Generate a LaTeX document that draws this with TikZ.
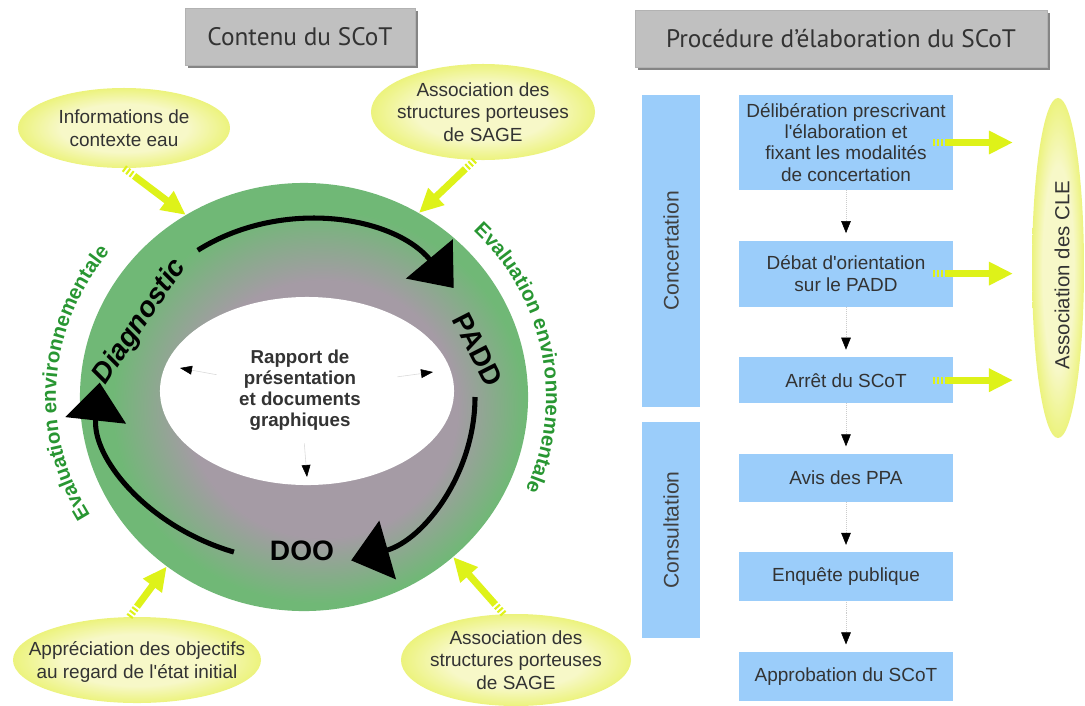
\documentclass[tikz,border=0pt]{standalone}
\usepackage{fontspec}
\setmainfont{Liberation Sans}
\newfontfamily\headfont{PT Sans}
\usetikzlibrary{positioning,shapes.geometric,arrows.meta,shadows,decorations.text}

\definecolor{headgray}{RGB}{192,192,192}
\definecolor{boxblue}{RGB}{155,205,250}
\definecolor{ringgreen}{RGB}{112,184,118}
\definecolor{ringgray}{RGB}{165,155,165}
\definecolor{bubblein}{RGB}{247,248,200}
\definecolor{bubbleout}{RGB}{236,243,125}
\definecolor{yarrowcol}{RGB}{222,242,25}
\definecolor{evalgreen}{RGB}{40,150,50}

\pgfdeclareradialshading{ringshade}{\pgfpoint{3bp}{-2bp}}{color(0bp)=(ringgray); color(15bp)=(ringgray); color(23bp)=(ringgreen); color(25bp)=(ringgreen); color(50bp)=(ringgreen)}
\pgfdeclareradialshading{bubbleshade}{\pgfpoint{0bp}{0bp}}{color(0bp)=(bubblein); color(15bp)=(bubblein); color(25bp)=(bubbleout); color(50bp)=(bubbleout)}

\newcommand\evalfont{\fontsize{14.5}{14.5}\selectfont\bfseries}

\begin{document}
\begin{tikzpicture}[x=0.025cm,y=0.025cm,node distance=1.25cm,
  headbox/.style={fill=headgray,draw=black!30,minimum height=1.425cm,
    drop shadow={shadow xshift=2pt,shadow yshift=-2pt,fill=black!60,opacity=.8},
    font=\headfont\fontsize{18}{18}\selectfont,text=black!80},
  bubble/.style={ellipse,shade,shading=bubbleshade,inner sep=0pt},
  bubtext/.style={align=center,font=\fontsize{13.5}{16}\selectfont,text=black!80},
  stepbox/.style={fill=boxblue,minimum width=5.325cm,inner sep=2pt,align=center,
    font=\fontsize{13.5}{15}\selectfont,text=black!80},
  sidebox/.style={fill=boxblue,rotate=90,minimum height=1.45cm,
    font=\fontsize{15}{15}\selectfont,text=black!75},
  cyclabel/.style={font=\fontsize{20}{20}\selectfont\bfseries},
  cycarrow/.style={line width=3.6pt,-{Triangle[length=0.95cm,width=1.5cm]}},
  yarrow/.style={draw=yarrowcol,line width=5pt,
    dash pattern=on 1.5pt off 1.5pt on 1.5pt off 1.5pt on 1.5pt off 1.5pt on 2000pt,
    -{Triangle[length=0.6cm,width=0.55cm]}},
  steparrow/.style={draw=black!20,densely dotted,shorten >=0.18cm,
    -{Triangle[length=0.3cm,width=0.24cm,color=black]}},
  docarrow/.style={draw=black!15,-{Triangle[length=0.3cm,width=0.22cm,color=black]}},
  evaltext/.style={decorate,decoration={text along path,text align=center,
    text color=evalgreen,text={|\evalfont|Evaluation environnementale}}}
]
\useasboundingbox (0,0) rectangle (1085,-705);

%% Contenu du SCoT
\node[headbox,minimum width=5.75cm] (contenu) at (300,-36.5) {Contenu du SCoT};

\node[shade,shading=ringshade,ellipse,minimum width=11.2cm,minimum height=10.7cm,
  inner sep=0pt] (ring) at (304,-397) {};
\node[ellipse,fill=white,minimum width=7.35cm,minimum height=4.7cm,inner sep=0pt]
  (hole) at (307,-391) {};
\node[font=\fontsize{13.3}{15}\selectfont\bfseries,align=center,text=black!80]
  (rapport) at (300,-390) {Rapport de\\présentation\\et documents\\graphiques};

\coordinate (rl) at (180,-368);
\coordinate (rr) at (433,-372);
\coordinate (rb) at (307,-477);
\draw[docarrow,shorten <=0.45cm] (rapport) -- (rl);
\draw[docarrow,shorten <=0.8cm] (rapport) -- (rr);
\draw[docarrow,shorten <=0.2cm] (rapport) -- (rb);

%% Cycle
\draw[cycarrow] (ring.center) ++(124:190 and 177)
  arc[start angle=124,end angle=38,x radius=190,y radius=177];
\draw[cycarrow] (ring.center) ++(0:171 and 170)
  arc[start angle=0,end angle=-74,x radius=171,y radius=170];
\draw[cycarrow] (ring.center) ++(-110:205 and 165)
  arc[start angle=-110,end angle=-185,x radius=205,y radius=165];

\node[cyclabel,font=\fontsize{20}{20}\selectfont\bfseries\itshape,rotate=56]
  (diag) at (140,-322) {Diagnostic};
\node[cyclabel,rotate=-63] (padd) at (478,-350) {PADD};
\node[cyclabel] (doo) at (302,-551) {DOO};

%% Evaluation environnementale
\path[evaltext] ([xshift=-0.2cm]ring.center) ++(222:240 and 230)
  arc[start angle=222,end angle=130,x radius=240,y radius=230];
\path[evaltext] ([xshift=0.05cm]ring.center) ++(57:240 and 232)
  arc[start angle=57,end angle=-35,x radius=240,y radius=232];

%% Bubbles
\node[bubble,minimum width=5.3cm,minimum height=2cm] (info) at (124,-128) {};
\node[bubtext] (infotxt) at (info) {Informations de\\contexte eau};
\node[bubble,minimum width=5.6cm,minimum height=2.4cm] (sage1) at (483,-112) {};
\node[bubtext] (sage1txt) at (sage1) {Association des\\structures porteuses\\de SAGE};
\node[bubble,minimum width=6.2cm,minimum height=2.15cm] (appr) at (137,-660) {};
\node[bubtext] (apprtxt) at (137,-662)
  {Appréciation des objectifs\\au regard de l\textquotesingle état initial};
\node[bubble,minimum width=5.75cm,minimum height=2.3cm] (sage2) at (516,-660) {};
\node[bubtext] (sage2txt) at (sage2) {Association des\\structures porteuses\\de SAGE};

\draw[yarrow] (info.south) -- (ring.123);
\draw[yarrow] (sage1.-100) -- (ring.58);
\draw[yarrow] (appr.100) -- (ring.231);
\draw[yarrow] (sage2.105) -- (ring.313);

%% Procedure
\node[headbox,minimum width=10.3cm] (procedure) at (841,-38.5)
  {Procédure d’élaboration du SCoT};

\node[stepbox,minimum height=2.375cm] (d1) at (846,-142.5)
  {Délibération prescrivant\\l\textquotesingle élaboration et\\fixant les modalités\\de concertation};
\node[stepbox,minimum height=1.65cm,below=of d1] (d2)
  {Débat d\textquotesingle orientation\\sur le PADD};
\node[stepbox,minimum height=1.15cm,below=of d2] (d3) {Arrêt du SCoT};
\node[stepbox,minimum height=1.2cm,below=of d3] (d4) {Avis des PPA};
\node[stepbox,minimum height=1.225cm,below=of d4] (d5) {Enquête publique};
\node[stepbox,minimum height=1.225cm,below=of d5] (d6) {Approbation du SCoT};

\node[sidebox,minimum width=7.8cm] (concert) at (671,-251) {Concertation};
\node[sidebox,minimum width=5.4cm] (consult) at (671,-530) {Consultation};

\foreach \a/\b in {d1/d2,d2/d3,d3/d4,d4/d5,d5/d6}
  \draw[steparrow] (\a) -- (\b);

\node[bubble,rotate=90,minimum width=8.5cm,minimum height=1.3cm] (cle) at (1058,-268) {};
\node[bubtext,rotate=90,font=\fontsize{14.5}{15}\selectfont] (cletxt) at (1062,-275)
  {Association des CLE};

\foreach \d in {d1,d2,d3}
  \draw[yarrow,shorten >=1.125cm] ([xshift=-0.5cm]\d.east) -- (\d.east -| cle.center);

\end{tikzpicture}
\end{document}
